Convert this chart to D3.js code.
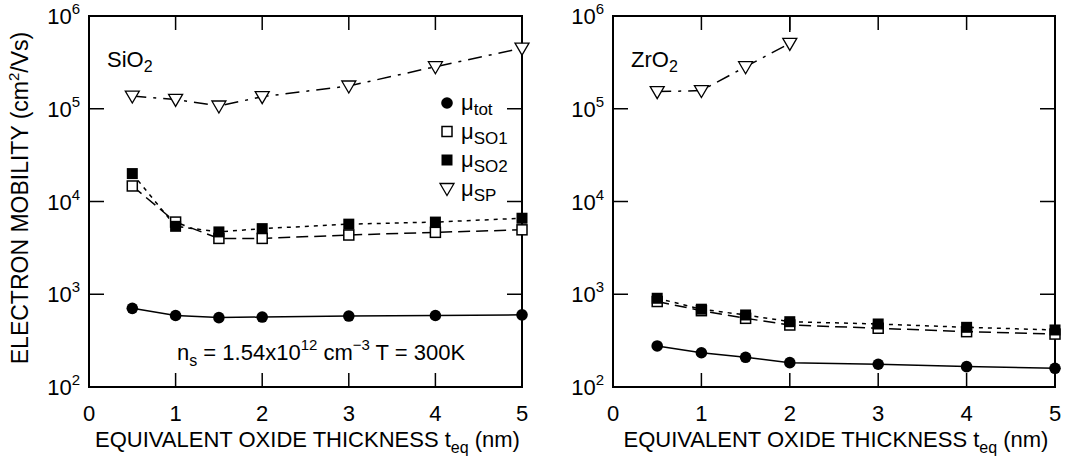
<!DOCTYPE html>
<html lang="en">
<head>
<meta charset="UTF-8">
<title>Electron mobility vs EOT</title>
<style>
  body { margin: 0; background: #fff; }
  svg { display: block; font-family: "Liberation Sans", Arial, sans-serif; }
</style>
</head>
<body>
<script src="https://cdn.jsdelivr.net/npm/d3@7"></script>
<script>
// thickness values (nm)
var thickness = [0.5, 1, 1.5, 2, 3, 4, 5];

// SiO2 panel
var sio2Tot = [705, 590, 560, 568, 582, 590, 600];
var sio2So1 = [14700, 6000, 4000, 4000, 4350, 4650, 4950];
var sio2So2 = [20000, 5400, 4700, 5100, 5700, 6000, 6600];
var sio2Sp  = [137000, 126000, 107000, 135000, 176000, 284000, 450000];

// ZrO2 panel
var zro2Tot = [277, 234, 209, 183, 176, 166, 159];
var zro2So1 = [835, 665, 550, 466, 430, 395, 372];
var zro2So2 = [905, 690, 598, 506, 478, 440, 412];
var zro2Sp  = [153000, 157000, 284000, 507000];   // only 0.5 .. 2 nm
var zro2SpTail = [[2, 1000000], [2, 507000]];     // curve leaves the frame

var xTicks = [0, 1, 2, 3, 4, 5];
var yDecades = [2, 3, 4, 5, 6];

var width = 1068, height = 459;
var plotTop = 16, plotBottom = 387;
var tickLen = 14;
var fs = 22;

var svg = d3.select("body").append("svg")
  .attr("width", width)
  .attr("height", height);

function pts(vals) {
  return vals.map(function(v, i) { return [thickness[i], v]; });
}

var panels = [
  { x0: 89, x1: 522, label: "SiO", tot: sio2Tot, so1: sio2So1, so2: sio2So2,
    sp: pts(sio2Sp), legend: true, note: true },
  { x0: 613, x1: 1055, label: "ZrO", tot: zro2Tot, so1: zro2So1, so2: zro2So2,
    sp: pts(zro2Sp), tail: zro2SpTail, legend: false, note: false }
];

// marker shapes
function marker(g, kind, x, y) {
  if (kind == "tot") {
    g.append("circle").attr("cx", x).attr("cy", y).attr("r", 5.8).attr("fill", "#000");
  } else if (kind == "so1") {
    g.append("rect").attr("x", x - 5).attr("y", y - 5).attr("width", 10).attr("height", 10)
      .attr("fill", "#fff").attr("stroke", "#000").attr("stroke-width", 1.5);
  } else if (kind == "so2") {
    g.append("rect").attr("x", x - 5.5).attr("y", y - 5.5).attr("width", 11).attr("height", 11)
      .attr("fill", "#000");
  } else {
    var s = 7;
    g.append("path")
      .attr("d", "M" + (x - s) + "," + (y - 5) + "L" + (x + s) + "," + (y - 5) + "L" + x + "," + (y + 7) + "Z")
      .attr("fill", "#fff").attr("stroke", "#000").attr("stroke-width", 1.3);
  }
}

panels.forEach(function(p) {
  var x = d3.scaleLinear().domain([0, 5]).range([p.x0, p.x1]);
  var y = d3.scaleLog().domain([100, 1000000]).range([plotBottom, plotTop]);
  var g = svg.append("g");

  var clip = "clip" + p.x0;
  svg.append("clipPath").attr("id", clip)
    .append("rect").attr("x", p.x0).attr("y", plotTop).attr("width", p.x1 - p.x0).attr("height", plotBottom - plotTop);

  // ticks (inward, all four sides)
  xTicks.slice(1, 5).forEach(function(t) {
    g.append("line").attr("x1", x(t)).attr("x2", x(t)).attr("y1", plotTop).attr("y2", plotTop + tickLen)
      .attr("stroke", "#000").attr("stroke-width", 1.5);
    g.append("line").attr("x1", x(t)).attr("x2", x(t)).attr("y1", plotBottom).attr("y2", plotBottom - tickLen)
      .attr("stroke", "#000").attr("stroke-width", 1.5);
  });
  yDecades.slice(1, 4).forEach(function(d) {
    var yy = y(Math.pow(10, d));
    g.append("line").attr("x1", p.x0).attr("x2", p.x0 + tickLen + 1).attr("y1", yy).attr("y2", yy)
      .attr("stroke", "#000").attr("stroke-width", 1.5);
    g.append("line").attr("x1", p.x1).attr("x2", p.x1 - tickLen - 1).attr("y1", yy).attr("y2", yy)
      .attr("stroke", "#000").attr("stroke-width", 1.5);
  });

  // frame
  g.append("rect").attr("x", p.x0).attr("y", plotTop).attr("width", p.x1 - p.x0).attr("height", plotBottom - plotTop)
    .attr("fill", "none").attr("stroke", "#000").attr("stroke-width", 2);

  // tick labels
  xTicks.forEach(function(t) {
    g.append("text").attr("x", x(t)).attr("y", 421).attr("text-anchor", "middle")
      .attr("font-size", fs).text(t);
  });
  yDecades.forEach(function(d) {
    var t = g.append("text").attr("x", p.x0 - 9).attr("y", y(Math.pow(10, d)) + 8)
      .attr("text-anchor", "end").attr("font-size", fs);
    t.append("tspan").text("10");
    t.append("tspan").attr("dy", -10).attr("font-size", 15).text(d);
  });

  // x axis title
  var xt = g.append("text").attr("x", (p.x0 + p.x1) / 2 + 2).attr("y", 447)
    .attr("text-anchor", "middle").attr("font-size", fs);
  xt.append("tspan").text("EQUIVALENT OXIDE THICKNESS t");
  xt.append("tspan").attr("dy", 6).attr("font-size", 16).text("eq");
  xt.append("tspan").attr("dy", -6).text(" (nm)");

  // material label
  var ml = g.append("text").attr("x", p.x0 + 18).attr("y", 67).attr("font-size", fs);
  ml.append("tspan").text(p.label);
  ml.append("tspan").attr("dy", 5).attr("font-size", 16).text("2");

  // lines
  var line = d3.line().x(function(d) { return x(d[0]); }).y(function(d) { return y(d[1]); });
  var lg = g.append("g").attr("clip-path", "url(#" + clip + ")")
    .attr("fill", "none").attr("stroke", "#000").attr("stroke-width", 1.5);
  lg.append("path").attr("d", line(pts(p.tot)));
  lg.append("path").attr("d", line(pts(p.so1))).attr("stroke-dasharray", "12,6");
  lg.append("path").attr("d", line(pts(p.so2))).attr("stroke-dasharray", "4,5");
  lg.append("path").attr("d", line(p.sp)).attr("stroke-dasharray", "14,7,3,7");
  if (p.tail) {
    lg.append("path").attr("d", line(p.tail)).attr("stroke-dasharray", "16,6,3,6");
  }

  // markers
  var mg = g.append("g");
  pts(p.tot).forEach(function(d) { marker(mg, "tot", x(d[0]), y(d[1])); });
  pts(p.so1).forEach(function(d) { marker(mg, "so1", x(d[0]), y(d[1])); });
  pts(p.so2).forEach(function(d) { marker(mg, "so2", x(d[0]), y(d[1])); });
  p.sp.forEach(function(d) { marker(mg, "sp", x(d[0]), y(d[1])); });

  if (p.legend) {
    var items = [["tot", "tot"], ["so1", "SO1"], ["so2", "SO2"], ["sp", "SP"]];
    items.forEach(function(it, i) {
      var ly = 103 + i * 28.5;
      marker(g, it[0], 447, ly);
      var t = g.append("text").attr("x", 461).attr("y", ly + 7).attr("font-size", fs);
      t.append("tspan").text("\u03bc");
      t.append("tspan").attr("dy", 5).attr("font-size", 17).text(it[1]);
    });
  }

  if (p.note) {
    var n = g.append("text").attr("x", 177).attr("y", 360).attr("font-size", fs);
    n.append("tspan").text("n");
    n.append("tspan").attr("dy", 6).attr("font-size", 16).text("s");
    n.append("tspan").attr("dy", -6).text(" = 1.54x10");
    n.append("tspan").attr("dy", -10).attr("font-size", 15).text("12");
    n.append("tspan").attr("dy", 10).text(" cm");
    n.append("tspan").attr("dy", -10).attr("font-size", 15).text("\u22123");
    n.append("tspan").attr("dy", 10).text(" T = 300K");
  }
});

// y axis title
var yt = svg.append("text").attr("transform", "translate(28,198) rotate(-90)")
  .attr("text-anchor", "middle").attr("font-size", 23);
yt.append("tspan").text("ELECTRON MOBILITY (cm");
yt.append("tspan").attr("dy", -9).attr("font-size", 15).text("2");
yt.append("tspan").attr("dy", 9).text("/Vs)");
</script>
</body>
</html>
